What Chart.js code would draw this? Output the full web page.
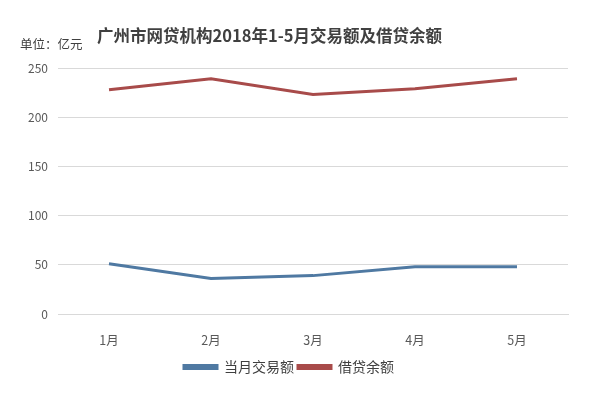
<!DOCTYPE html>
<html>
<head>
<meta charset="utf-8">
<script src="https://cdn.jsdelivr.net/npm/chart.js@4/dist/chart.umd.min.js"></script>
<style>
  html, body { margin: 0; padding: 0; background: #fff; }
  #wrap { width: 592px; height: 394px; }
</style>
</head>
<body>
<div id="wrap"><canvas id="chart"></canvas></div>
<script>
const months = ['1月', '2月', '3月', '4月', '5月'];
const volume = [51, 36, 39, 48, 48];        // 当月交易额
const balance = [228, 239, 223, 229, 239];  // 借贷余额
const yTicks = [0, 50, 100, 150, 200, 250];

const FONT = '"Noto Sans CJK SC", "Noto Sans", sans-serif';

// title and unit label drawn on top of the canvas
const headerPlugin = {
    id: 'header',
    afterDraw(chart) {
        const ctx = chart.ctx;
        ctx.save();
        ctx.textBaseline = 'middle';
        ctx.textAlign = 'left';
        ctx.fillStyle = '#404040';
        ctx.font = 'bold 16.5px ' + FONT;
        ctx.fillText('广州市网贷机构2018年1-5月交易额及借贷余额', 97, 36);
        ctx.font = '12.5px ' + FONT;
        ctx.fillText('单位：亿元', 20, 44);
        ctx.restore();
    }
};

new Chart(document.getElementById('chart'), {
    type: 'line',
    data: {
        labels: months,
        datasets: [{
            label: '当月交易额',
            data: volume,
            borderColor: '#4f79a2',
            backgroundColor: '#4f79a2',
            borderWidth: 3,
            pointRadius: 0,
            tension: 0
        }, {
            label: '借贷余额',
            data: balance,
            borderColor: '#a84b4a',
            backgroundColor: '#a84b4a',
            borderWidth: 3,
            pointRadius: 0,
            tension: 0
        }]
    },
    options: {
        responsive: true,
        maintainAspectRatio: false,
        animation: false,
        layout: {
            padding: { top: 68, left: 10, right: 24, bottom: 10 }
        },
        plugins: {
            legend: {
                position: 'bottom',
                labels: {
                    font: { family: FONT, size: 14 },
                    color: '#404040',
                    boxWidth: 33,
                    boxHeight: 3,
                    padding: 4
                }
            },
            tooltip: { enabled: false }
        },
        scales: {
            x: {
                offset: true,
                grid: { display: false },
                border: { color: '#d9d9d9' },
                ticks: {
                    font: { family: FONT, size: 12.5 },
                    color: '#595959',
                    padding: 11
                },
                afterFit(axis) { axis.height = 42; }
            },
            y: {
                min: 0,
                max: 250,
                afterBuildTicks(axis) {
                    axis.ticks = yTicks.map(v => ({ value: v }));
                },
                grid: { color: '#d9d9d9', drawTicks: false },
                border: { display: false },
                ticks: {
                    font: { family: FONT, size: 12 },
                    color: '#595959',
                    padding: 10
                },
                afterFit(axis) { axis.width = 48; }
            }
        }
    },
    plugins: [headerPlugin]
});
</script>
</body>
</html>
